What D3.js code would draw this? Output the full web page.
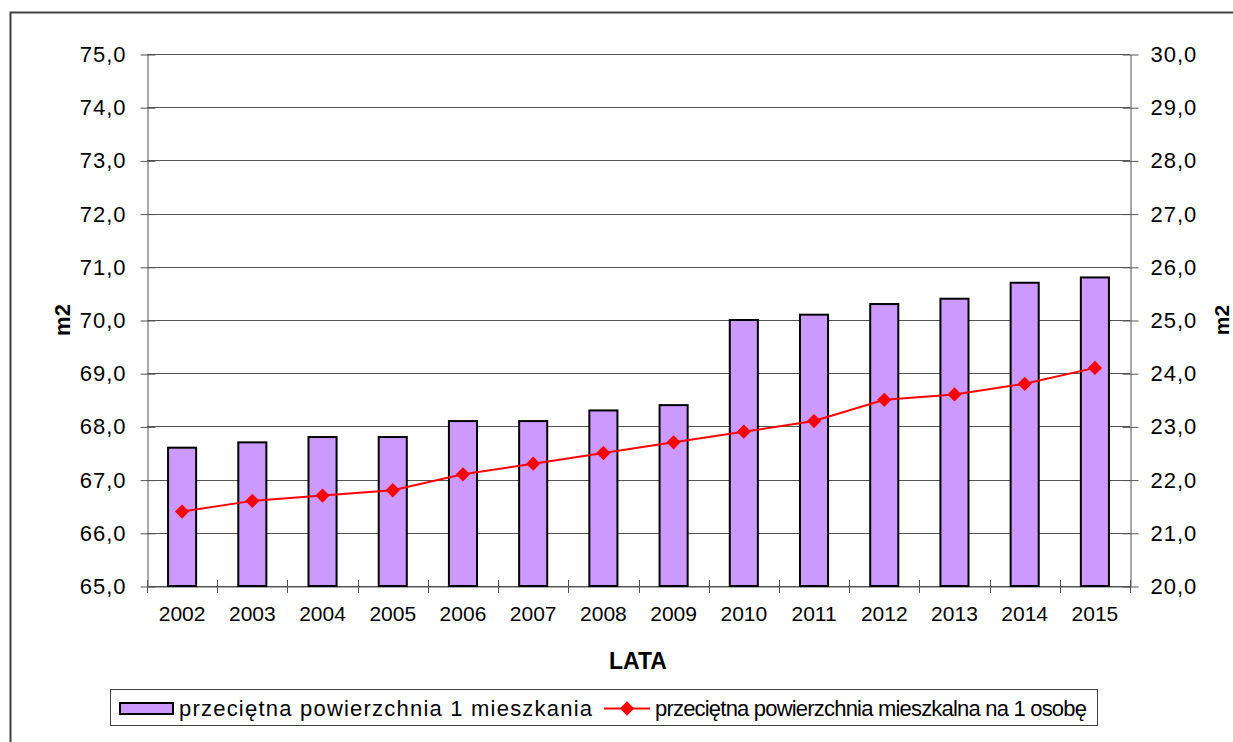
<!DOCTYPE html>
<html>
<head>
<meta charset="utf-8">
<script src="https://cdn.jsdelivr.net/npm/d3@7/dist/d3.min.js"></script>
<style>
  body { margin: 0; background: #fff; }
  svg { display: block; font-family: "Liberation Sans", Arial, sans-serif; }
</style>
</head>
<body>
<svg id="chart" width="1233" height="742"></svg>
<script>
const years = ['2002', '2003', '2004', '2005', '2006', '2007', '2008', '2009', '2010', '2011', '2012', '2013', '2014', '2015'];
const flatArea = [67.6, 67.7, 67.8, 67.8, 68.1, 68.1, 68.3, 68.4, 70.0, 70.1, 70.3, 70.4, 70.7, 70.8];
const perPerson = [21.4, 21.6, 21.7, 21.8, 22.1, 22.3, 22.5, 22.7, 22.9, 23.1, 23.5, 23.6, 23.8, 24.1];
const leftTicks = [65, 66, 67, 68, 69, 70, 71, 72, 73, 74, 75];
const rightTicks = [20, 21, 22, 23, 24, 25, 26, 27, 28, 29, 30];
const seriesNames = ['przeciętna powierzchnia 1 mieszkania', 'przeciętna powierzchnia mieszkalna na 1 osobę'];

const svg = d3.select('#chart');
const fmt = d => d.toFixed(1).replace('.', ',');

const plot = { left: 147, right: 1130, top: 54, bottom: 586 };

// outer frame of the chart object
svg.append('rect')
    .attr('x', 10.5).attr('y', 12.5)
    .attr('width', 1240).attr('height', 760)
    .style('fill', 'none')
    .style('stroke', '#404040')
    .style('stroke-width', '2px');

const x = d3.scaleBand().domain(years).range([plot.left, plot.right]).padding(0);
const yL = d3.scaleLinear().domain([65, 75]).range([plot.bottom, plot.top]);
const yR = d3.scaleLinear().domain([20, 30]).range([plot.bottom, plot.top]);

// gridlines
svg.append('g')
    .selectAll('line')
    .data(leftTicks)
    .enter()
    .append('line')
    .attr('x1', plot.left).attr('x2', plot.right)
    .attr('y1', d => Math.round(yL(d)) + 0.5)
    .attr('y2', d => Math.round(yL(d)) + 0.5)
    .style('stroke', '#555')
    .style('stroke-width', '1px');

// left axis
const axL = svg.append('g')
    .attr('transform', 'translate(' + (plot.left + 0.5) + ',0.5)')
    .call(d3.axisLeft(yL).tickValues(leftTicks).tickFormat(fmt).tickSizeInner(8).tickSizeOuter(0).tickPadding(13));
axL.select('.domain').style('stroke', '#555');
axL.selectAll('.tick line').style('stroke', '#555').attr('x2', 8).attr('x1', -7);
axL.selectAll('.tick text').style('font-size', '22px').style('letter-spacing', '1px').style('fill', '#000');

// right axis
const axR = svg.append('g')
    .attr('transform', 'translate(' + (plot.right + 0.5) + ',0.5)')
    .call(d3.axisRight(yR).tickValues(rightTicks).tickFormat(fmt).tickSizeInner(8).tickSizeOuter(0).tickPadding(12));
axR.select('.domain').style('stroke', '#555');
axR.selectAll('.tick line').style('stroke', '#555').attr('x1', -8).attr('x2', 8);
axR.selectAll('.tick text').style('font-size', '22px').style('letter-spacing', '1px').style('fill', '#000');

// bottom axis: labels in the middle, ticks on category boundaries
const axB = svg.append('g')
    .attr('transform', 'translate(0,' + (plot.bottom + 0.5) + ')')
    .call(d3.axisBottom(x).tickSize(0).tickPadding(20));
axB.select('.domain').style('stroke', '#555');
axB.selectAll('.tick text').style('font-size', '21px').style('fill', '#000');

svg.append('g')
    .selectAll('line')
    .data(years.map(d => x(d)).concat([plot.right]))
    .enter()
    .append('line')
    .attr('x1', d => Math.round(d) + 0.5).attr('x2', d => Math.round(d) + 0.5)
    .attr('y1', plot.bottom - 6).attr('y2', plot.bottom + 7)
    .style('stroke', '#555');

// bars
const barW = x.bandwidth() * 0.4;
svg.append('g')
    .selectAll('rect')
    .data(flatArea)
    .enter()
    .append('rect')
    .attr('x', (d, i) => x(years[i]) + (x.bandwidth() - barW) / 2)
    .attr('y', d => yL(d))
    .attr('width', barW)
    .attr('height', d => yL(65) - yL(d))
    .style('fill', '#cc99ff')
    .style('stroke', '#000')
    .style('stroke-width', '2px');

// line series
const line = d3.line()
    .x((d, i) => x(years[i]) + x.bandwidth() / 2)
    .y(d => yR(d));

svg.append('path')
    .datum(perPerson)
    .attr('d', line)
    .style('fill', 'none')
    .style('stroke', '#ff0000')
    .style('stroke-width', '2px');

const diamond = d3.symbol().type(d3.symbolDiamond2).size(130);
svg.append('g')
    .selectAll('path')
    .data(perPerson)
    .enter()
    .append('path')
    .attr('d', diamond)
    .attr('transform', (d, i) => 'translate(' + (x(years[i]) + x.bandwidth() / 2) + ',' + yR(d) + ')')
    .style('fill', '#ff0000');

// axis titles
svg.append('text')
    .attr('x', 638).attr('y', 669)
    .attr('text-anchor', 'middle')
    .style('font-size', '23px').style('font-weight', 'bold')
    .text('LATA');

svg.append('text')
    .attr('transform', 'translate(70,' + ((plot.top + plot.bottom) / 2) + ') rotate(-90)')
    .attr('text-anchor', 'middle')
    .style('font-size', '22px').style('font-weight', 'bold')
    .text('m2');

svg.append('text')
    .attr('transform', 'translate(1229,' + ((plot.top + plot.bottom) / 2) + ') rotate(-90)')
    .attr('text-anchor', 'middle')
    .style('font-size', '21px').style('font-weight', 'bold')
    .text('m2');

// legend
const legend = svg.append('g');
legend.append('rect')
    .attr('x', 110.5).attr('y', 689.5)
    .attr('width', 987).attr('height', 36)
    .style('fill', '#fff')
    .style('stroke', '#404040')
    .style('stroke-width', '1px');

legend.append('rect')
    .attr('x', 120).attr('y', 703)
    .attr('width', 53).attr('height', 11)
    .style('fill', '#cc99ff')
    .style('stroke', '#000')
    .style('stroke-width', '2px');

legend.append('text')
    .attr('x', 179).attr('y', 716)
    .attr('textLength', 413)
    .attr('lengthAdjust', 'spacing')
    .style('font-size', '22px')
    .text(seriesNames[0]);

legend.append('line')
    .attr('x1', 604).attr('x2', 650)
    .attr('y1', 708.5).attr('y2', 708.5)
    .style('stroke', '#ff0000')
    .style('stroke-width', '2px');

legend.append('path')
    .attr('d', diamond)
    .attr('transform', 'translate(627,708.5)')
    .style('fill', '#ff0000');

legend.append('text')
    .attr('x', 655).attr('y', 716)
    .attr('textLength', 432)
    .attr('lengthAdjust', 'spacing')
    .style('font-size', '22px')
    .text(seriesNames[1]);
</script>
</body>
</html>
